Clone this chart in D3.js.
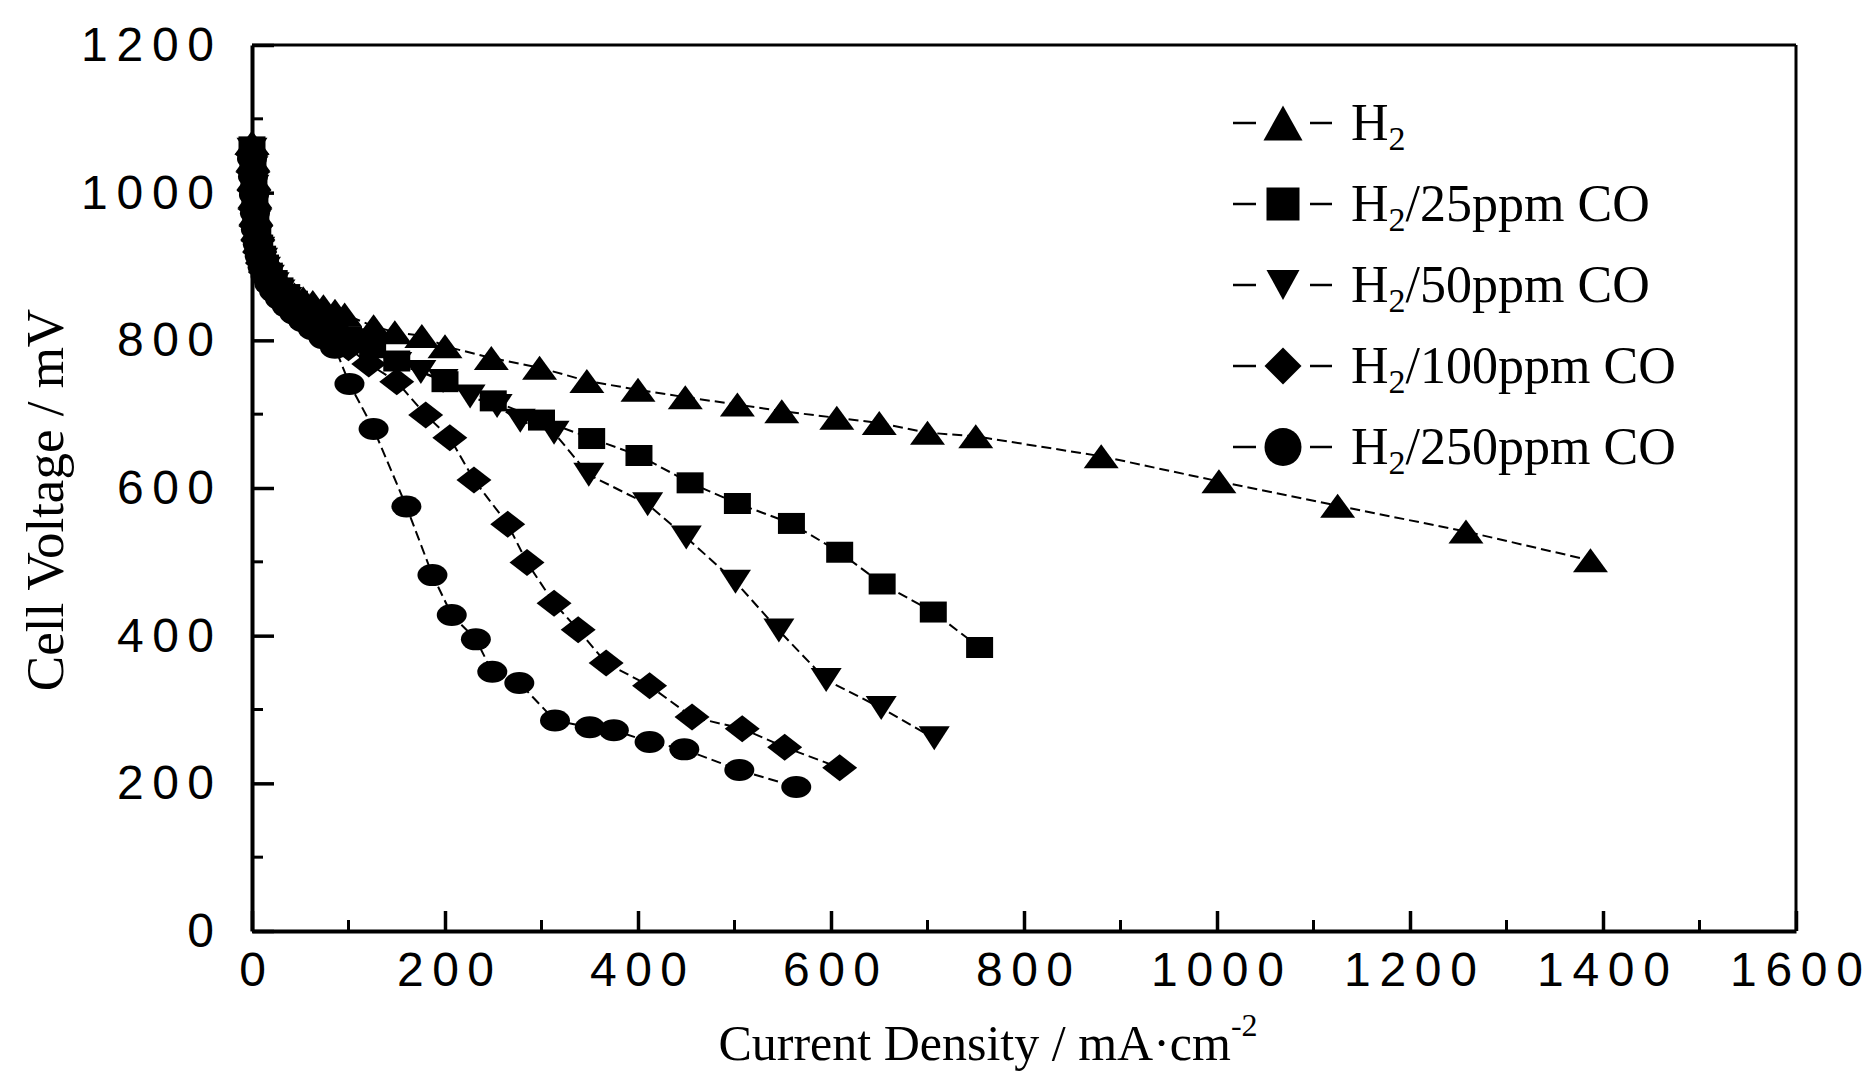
<!DOCTYPE html>
<html>
<head>
<meta charset="utf-8">
<script src="https://cdn.jsdelivr.net/npm/d3@7"></script>
<style>
  body { margin: 0; background: #fff; }
  svg { display: block; }
</style>
</head>
<body>
<svg id="chart"></svg>
<script>
// current density (mA/cm2) and cell voltage (mV)
const currH2 = [0, 1, 2, 3, 4, 6, 8, 11, 14, 18, 23, 29, 36, 44, 53, 63, 74, 86, 96, 126, 148, 176, 200, 248, 298, 347, 400, 449, 503, 549, 606, 650, 700, 750, 880, 1002, 1125, 1258, 1387];
const voltH2 = [1068, 1045, 1020, 995, 972, 952, 936, 921, 909, 898, 888, 879, 870, 862, 857, 852, 846, 840, 835, 819, 811, 806, 792, 776, 763, 745, 733, 723, 713, 704, 695, 688, 675, 670, 643, 609, 576, 541, 502];

const curr25 = [0, 1, 2, 3, 4, 6, 8, 11, 14, 18, 23, 29, 36, 44, 53, 63, 74, 86, 100, 125, 150, 200, 250, 300, 352, 401, 454, 503, 559, 609, 653, 706, 754];
const volt25 = [1062, 1038, 1012, 988, 965, 945, 929, 914, 902, 891, 881, 871, 862, 853, 846, 838, 829, 818, 805, 790, 772, 744, 718, 692, 667, 644, 607, 579, 552, 513, 470, 432, 384];

const curr50 = [0, 1, 2, 3, 4, 6, 8, 11, 14, 18, 23, 29, 36, 44, 53, 63, 74, 86, 100, 125, 150, 175, 198, 226, 254, 278, 313, 349, 410, 450, 501, 546, 595, 652, 707];
const volt50 = [1058, 1033, 1008, 983, 960, 940, 924, 909, 897, 886, 876, 866, 856, 847, 839, 830, 820, 809, 800, 785, 768, 757, 745, 724, 711, 691, 675, 618, 578, 533, 473, 407, 340, 302, 261];

const curr100 = [0, 1, 2, 3, 4, 6, 8, 11, 14, 18, 23, 29, 36, 44, 53, 63, 74, 86, 100, 121, 150, 180, 205, 230, 265, 285, 313, 338, 367, 412, 456, 508, 552, 609];
const volt100 = [1052, 1028, 1003, 978, 955, 935, 919, 904, 892, 881, 871, 861, 851, 842, 833, 823, 812, 800, 790, 768, 744, 699, 668, 611, 551, 499, 444, 408, 363, 332, 290, 274, 249, 221];

const curr250 = [0, 1, 2, 3, 4, 6, 8, 11, 14, 18, 23, 29, 36, 44, 53, 63, 74, 86, 101, 126, 160, 187, 207, 232, 249, 277, 314, 350, 375, 412, 448, 505, 564];
const volt250 = [1046, 1022, 997, 972, 950, 930, 914, 899, 887, 876, 866, 856, 846, 836, 826, 815, 803, 790, 741, 680, 575, 482, 428, 395, 351, 336, 285, 276, 272, 256, 246, 218, 195];

const legendTails = ["", "/25ppm CO", "/50ppm CO", "/100ppm CO", "/250ppm CO"];
const shapes = ["up", "square", "down", "diamond", "circle"];
const xTicks = [0, 200, 400, 600, 800, 1000, 1200, 1400, 1600];
const yTicks = [0, 200, 400, 600, 800, 1000, 1200];

const width = 1867, height = 1077;
const margin = { top: 45, right: 71, bottom: 146, left: 252 };
const x0 = margin.left, x1 = width - margin.right;
const y0 = height - margin.bottom, y1 = margin.top;

const svg = d3.select("#chart").attr("width", width).attr("height", height);
svg.append("rect").attr("width", width).attr("height", height).attr("fill", "#fff");

const x = d3.scaleLinear().domain([0, 1600]).range([x0, x1]);
const y = d3.scaleLinear().domain([0, 1200]).range([y0, y1]);

const numFont = "'Liberation Sans Narrow', 'Arial Narrow', 'Liberation Sans', Arial, sans-serif";
const serif = "'Liberation Serif', 'Times New Roman', serif";

// frame: thin top and right
svg.append("line").attr("x1", x0).attr("x2", x1).attr("y1", y1).attr("y2", y1)
  .attr("stroke", "#000").attr("stroke-width", 3);
svg.append("line").attr("x1", x1).attr("x2", x1).attr("y1", y1).attr("y2", y0)
  .attr("stroke", "#000").attr("stroke-width", 3);

// minor ticks
const minorX = d3.range(100, 1600, 200);
const minorY = d3.range(100, 1200, 200);
svg.append("g").selectAll("line").data(minorX).join("line")
  .attr("x1", d => x(d)).attr("x2", d => x(d))
  .attr("y1", y0).attr("y2", y0 - 11)
  .attr("stroke", "#000").attr("stroke-width", 3);
svg.append("g").selectAll("line").data(minorY).join("line")
  .attr("x1", x0).attr("x2", x0 + 11)
  .attr("y1", d => y(d)).attr("y2", d => y(d))
  .attr("stroke", "#000").attr("stroke-width", 3);

// axes
const fmt = d3.format("d");
const gx = svg.append("g").attr("transform", `translate(0,${y0})`)
  .call(d3.axisBottom(x).tickValues(xTicks).tickFormat(fmt).tickSizeInner(-20).tickSizeOuter(0).tickPadding(40));
const gy = svg.append("g").attr("transform", `translate(${x0},0)`)
  .call(d3.axisLeft(y).tickValues(yTicks).tickFormat(fmt).tickSizeInner(-22).tickSizeOuter(0).tickPadding(38));

[gx, gy].forEach(g => {
  g.select(".domain").attr("stroke", "#000").attr("stroke-width", 4);
  g.selectAll(".tick line").attr("stroke", "#000").attr("stroke-width", 3.5);
  g.selectAll(".tick text")
    .attr("fill", "#000")
    .style("font-family", numFont)
    .style("font-size", "48px")
    .attr("textLength", d => 25 + (fmt(d).length - 1) * 36)
    .attr("lengthAdjust", "spacing");
});
gx.selectAll(".tick text").attr("dy", "0.71em").attr("y", 21);

// series
const series = [
  { cx: currH2, cy: voltH2 },
  { cx: curr25, cy: volt25 },
  { cx: curr50, cy: volt50 },
  { cx: curr100, cy: volt100 },
  { cx: curr250, cy: volt250 }
].map((s, i) => ({ pts: s.cx.map((c, j) => [c, s.cy[j]]), shape: shapes[i], tail: legendTails[i] }));

const plotSize = { up: [35, 24], square: [27, 21], down: [31, 24], diamond: [35, 27], circle: [30, 22] };
const legendSize = { up: [39, 35], square: [33, 33], down: [33, 30], diamond: [37, 37], circle: [37, 38] };

function markerPath(shape, w, h) {
  const a = w / 2, b = h / 2;
  switch (shape) {
    case "up": return `M0,${-b}L${a},${b}L${-a},${b}Z`;
    case "down": return `M0,${b}L${a},${-b}L${-a},${-b}Z`;
    case "square": return `M${-a},${-b}H${a}V${b}H${-a}Z`;
    case "diamond": return `M0,${-b}L${a},0L0,${b}L${-a},0Z`;
    default: return `M${-a},0A${a},${b} 0 1,0 ${a},0A${a},${b} 0 1,0 ${-a},0Z`;
  }
}

const line = d3.line().x(d => x(d[0])).y(d => y(d[1]));

svg.append("g").selectAll("path").data(series).join("path")
  .attr("d", d => line(d.pts))
  .attr("fill", "none")
  .attr("stroke", "#000")
  .attr("stroke-width", 2)
  .attr("stroke-dasharray", "10,5");

series.forEach(s => {
  const [w, h] = plotSize[s.shape];
  svg.append("g").selectAll("path").data(s.pts).join("path")
    .attr("transform", d => `translate(${x(d[0])},${y(d[1])})`)
    .attr("d", markerPath(s.shape, w, h))
    .attr("fill", "#000");
});

// legend
const legend = svg.append("g").attr("transform", "translate(1283,123)");
const rows = legend.selectAll("g").data(series).join("g")
  .attr("transform", (d, i) => `translate(0,${i * 81})`);
rows.append("line").attr("x1", -50).attr("x2", -27).attr("y1", 0).attr("y2", 0)
  .attr("stroke", "#000").attr("stroke-width", 2.5);
rows.append("line").attr("x1", 27).attr("x2", 49).attr("y1", 0).attr("y2", 0)
  .attr("stroke", "#000").attr("stroke-width", 2.5);
rows.append("path")
  .attr("d", d => markerPath(d.shape, legendSize[d.shape][0], legendSize[d.shape][1]))
  .attr("fill", "#000");
const lt = rows.append("text")
  .attr("x", 68).attr("y", 17)
  .style("font-family", serif)
  .style("font-size", "52px")
  .attr("fill", "#000");
lt.append("tspan").text("H");
lt.append("tspan").attr("dy", 10).style("font-size", "34px").text("2");
lt.append("tspan").attr("dy", -10).text(d => d.tail);

// axis titles
const xt = svg.append("text")
  .attr("x", 988).attr("y", 1060)
  .attr("text-anchor", "middle")
  .style("font-family", serif)
  .style("font-size", "50px")
  .attr("fill", "#000");
xt.append("tspan").text("Current Density / mA\u00b7cm");
xt.append("tspan").attr("dy", -24).style("font-size", "32px").text("-2");

svg.append("text")
  .attr("transform", "translate(63,500) rotate(-90)")
  .attr("text-anchor", "middle")
  .style("font-family", serif)
  .style("font-size", "53px")
  .attr("fill", "#000")
  .text("Cell Voltage / mV");
</script>
</body>
</html>
